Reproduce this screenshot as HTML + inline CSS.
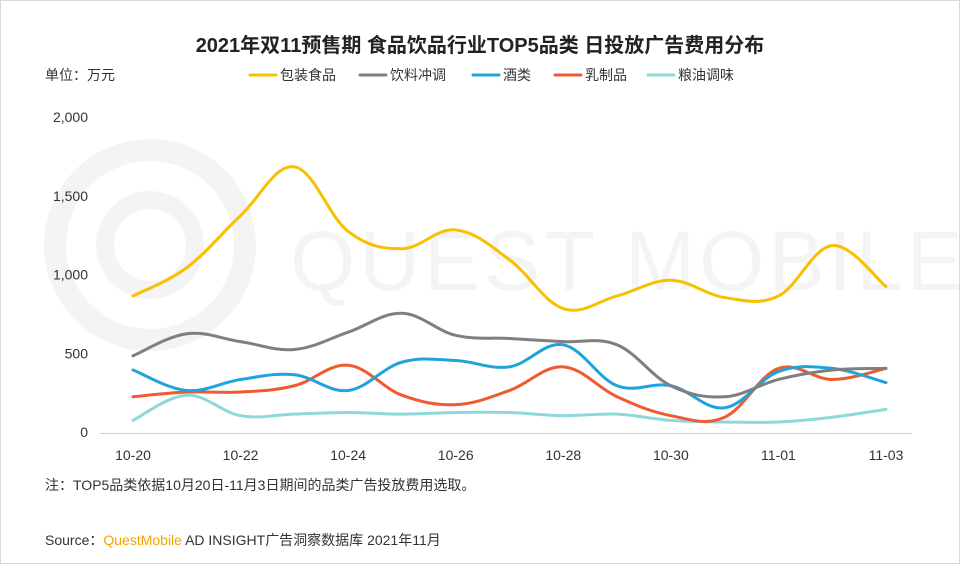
<!DOCTYPE html>
<html><head><meta charset="utf-8">
<style>
html,body{margin:0;padding:0;background:#fff;}
body{width:960px;height:564px;overflow:hidden;font-family:"Liberation Sans","Noto Sans CJK SC",sans-serif;}
#frame{position:absolute;left:0;top:0;width:958px;height:562px;border:1px solid #d9d9d9;}
</style></head>
<body>
<div id="frame"></div>
<svg id="chart" width="960" height="564" style="position:absolute;left:0;top:0">
  <g opacity="0.04">
    <circle cx="150" cy="245" r="95" fill="none" stroke="#000" stroke-width="22"/>
    <circle cx="150" cy="245" r="45" fill="none" stroke="#000" stroke-width="18"/>
    <text x="290" y="290" font-size="84" font-family="Liberation Sans, sans-serif" fill="#000" letter-spacing="4">QUEST MOBILE</text>
  </g>
  <text x="480" y="52" text-anchor="middle" font-size="20" font-weight="bold" fill="#222">2021年双11预售期 食品饮品行业TOP5品类 日投放广告费用分布</text>
  <text x="45" y="80" font-size="14" fill="#333">单位：万元</text>
  <g id="legend"></g>
  <g id="grid"></g>
  <g id="xaxis"></g>
  <g id="series"></g>
  <text x="45" y="490" font-size="14" fill="#333">注：TOP5品类依据10月20日-11月3日期间的品类广告投放费用选取。</text>
  <text x="45" y="545" font-size="14" fill="#333">Source：<tspan fill="#f5a300">QuestMobile</tspan> AD INSIGHT广告洞察数据库 2021年11月</text>
</svg>
<script>
const categories=["10-20","10-21","10-22","10-23","10-24","10-25","10-26","10-27","10-28","10-29","10-30","10-31","11-01","11-02","11-03"];
const yTicks=[0,500,1000,1500,2000];
const seriesNames=["包装食品","饮料冲调","酒类","乳制品","粮油调味"];
const seriesColors=["#f8c000","#7f7f7f","#1fa3dc","#ef5a2f","#8fd8d8"];
const packaged=[870,1050,1380,1690,1280,1170,1290,1100,790,870,970,860,870,1190,930];
const beverage=[490,630,580,530,640,760,620,600,580,560,300,230,340,400,410];
const liquor=[400,270,340,370,270,450,460,420,560,300,300,160,390,410,320];
const dairy=[230,260,260,300,430,240,180,270,420,230,110,100,410,340,410];
const grain=[80,240,110,120,130,120,130,130,110,120,80,70,70,100,150];
const allSeries=[packaged,beverage,liquor,dairy,grain];

const NS="http://www.w3.org/2000/svg";
const x0=133,x1=886,yb=433,yt=118,ymax=2000;
const xs=i=>x0+(x1-x0)*i/(categories.length-1);
const ys=v=>yb-(yb-yt)*v/ymax;
function mk(tag,attrs,parent){const e=document.createElementNS(NS,tag);for(const k in attrs)e.setAttribute(k,attrs[k]);parent.appendChild(e);return e;}

const grid=document.getElementById('grid');
yTicks.forEach(t=>{
  const tx=mk('text',{x:88,y:ys(t)+4,'text-anchor':'end','font-size':14,fill:'#333'},grid);
  
  
  tx.textContent=t.toLocaleString('en-US');
});
const xa=document.getElementById('xaxis');
const ax=mk('line',{x1:100,x2:912,y1:yb+0.5,y2:yb+0.5,stroke:'#d0d0d0'},xa);


categories.forEach((c,i)=>{
  if(i%2) return;
  const tx=mk('text',{x:xs(i),y:460,'text-anchor':'middle','font-size':14,fill:'#333'},xa);
  
  
  tx.textContent=c;
});

function pathFor(vals){
  const p=vals.map((v,i)=>[xs(i),ys(v)]);
  let d='M'+p[0][0]+','+p[0][1];
  for(let i=0;i<p.length-1;i++){
    const a=p[i-1]||p[i],b=p[i],c=p[i+1],e=p[i+2]||c;
    const t=0.18;
    d+=' C'+(b[0]+(c[0]-a[0])*t)+','+(b[1]+(c[1]-a[1])*t)+' '+(c[0]-(e[0]-b[0])*t)+','+(c[1]-(e[1]-b[1])*t)+' '+c[0]+','+c[1];
  }
  return d;
}
const sg=document.getElementById('series');
[4,3,2,1,0].forEach(k=>{
  const pth=mk('path',{d:pathFor(allSeries[k]),fill:'none',stroke:seriesColors[k],'stroke-width':3,'stroke-linejoin':'round','stroke-linecap':'round'},sg);
  
  
});

const lg=document.getElementById('legend');
const lx=[250,360,473,555,648];
seriesNames.forEach((n,k)=>{
  const g=mk('g',{},lg);
  
  
  mk('line',{x1:lx[k],x2:lx[k]+26,y1:75,y2:75,stroke:seriesColors[k],'stroke-width':3,'stroke-linecap':'round'},g);
  const t=mk('text',{x:lx[k]+30,y:80,'font-size':14,fill:'#333'},g);
  t.textContent=n;
});
</script>
</body></html>
